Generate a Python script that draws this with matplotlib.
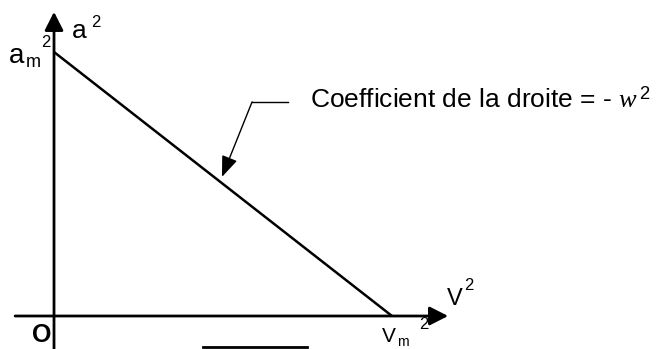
import matplotlib
matplotlib.use('Agg')
import matplotlib.pyplot as plt

plt.rcParams['font.family'] = ['Liberation Sans', 'DejaVu Sans']
plt.rcParams['mathtext.fontset'] = 'custom'
plt.rcParams['mathtext.rm'] = 'Liberation Sans'
plt.rcParams['mathtext.it'] = 'Liberation Serif:italic'

# a^2 as a function of v^2: straight line from (0, am^2) down to (vm^2, 0)
am2 = 1.0
vm2 = 1.0
v_sq = [0.0, vm2]
a_sq = [am2, 0.0]

# extent of the drawn axes (in v^2 / a^2 units)
x_axis = [-0.115, 1.166]
y_axis = [-0.125, 1.152]

fig = plt.figure(figsize=(6.6, 3.49), dpi=100)
ax = fig.add_axes([0, 0, 1, 1])
ax.set_xlim(-0.1598, 1.7929)
ax.set_ylim(-0.125, 1.197)
ax.axis('off')

axis_arrow = dict(arrowstyle='-|>,head_length=0.75,head_width=0.38',
                  mutation_scale=15, lw=2.0, color='black',
                  shrinkA=0, shrinkB=0)
ax.annotate('', xy=(x_axis[1], 0), xytext=(x_axis[0], 0), arrowprops=axis_arrow)
ax.annotate('', xy=(0, y_axis[1]), xytext=(0, y_axis[0]), arrowprops=axis_arrow)

ax.plot(v_sq, a_sq, color='black', lw=1.8, solid_capstyle='butt')

def label(s, anchor, dx, dy, size, **kw):
    ax.annotate(s, xy=anchor, xytext=(dx, dy), textcoords='offset pixels',
                ha='left', va='baseline', fontsize=size, **kw)

# origin
label('O', (0, 0), -22, -26, 18, fontweight='bold')

# vertical axis labels
label('a', (0, am2), -45, -11, 20)
label('m', (0, am2), -28, -15, 13)
label('2', (0, am2), -13, 5, 12)
label('a', (0, am2), 18, 14, 19)
label('2', (0, am2), 37, 25, 12)

# horizontal axis labels
label('V', (vm2, 0), 55, 11, 17)
label('2', (vm2, 0), 72, 26, 12)
label('V', (vm2, 0), -10, -26, 15)
label('m', (vm2, 0), 5, -30, 10)
label('2', (vm2, 0), 27, -13, 12)

# slope callout
ax.plot([0.692, 0.586], [0.811, 0.811], color='black', lw=1.0)
ax.annotate('', xy=(0.497, 0.527), xytext=(0.586, 0.811),
            arrowprops=dict(arrowstyle='-|>,head_length=0.85,head_width=0.33',
                            mutation_scale=15, lw=1.0, color='black',
                            shrinkA=0, shrinkB=0))
ax.text(0.757, 0.788, r'Coefficient de la droite = - $w^{\,2}$',
        ha='left', va='baseline', fontsize=19)

# bar under the axis
ax.plot([0.441, 0.749], [-0.117, -0.117], color='black', lw=2.0)

fig.savefig('out.png', dpi=100)
